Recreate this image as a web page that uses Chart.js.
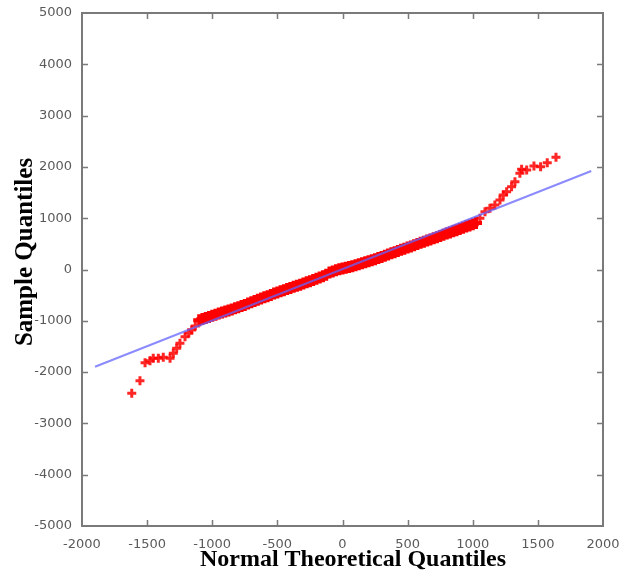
<!DOCTYPE html>
<html>
<head>
<meta charset="utf-8">
<script src="https://cdn.jsdelivr.net/npm/chart.js@4"></script>
<style>
  html, body { margin: 0; padding: 0; background: #fff; overflow: hidden; }
  #wrap { width: 623px; height: 571px; position: relative; }
</style>
</head>
<body>
<div id="wrap"><canvas id="qq"></canvas></div>
<script>
// Normal Q-Q plot
const theoretical = [
  -1618, -1555, -1516, -1478, -1453, -1414, -1376, -1324, -1299, -1273, -1248, -1209, -1180, -1158, -1130,
  -1100, -1075, -1050, -1025, -1000, -975, -950, -925, -900, -875, -850, -825, -800, -775, -750, -725,
  -700, -675, -650, -625, -600, -575, -550, -525, -500, -475, -450, -425, -400, -375, -350, -325,
  -300, -275, -250, -225, -200, -175, -150, -125, -100, -75, -50, -25, 0, 25, 50, 75,
  100, 125, 150, 175, 200, 225, 250, 275, 300, 325, 350, 375, 400, 425, 450, 475,
  500, 525, 550, 575, 600, 625, 650, 675, 700, 725, 750, 775, 800, 825, 850, 875,
  900, 925, 950, 975, 1000, 1025, 1055, 1094, 1132, 1170, 1209, 1234, 1260, 1298, 1324,
  1362, 1375, 1414, 1470, 1521, 1572, 1639
];
const sample = [
  -2413, -2168, -1817, -1778, -1731, -1731, -1712, -1731, -1634, -1537, -1439, -1310, -1240, -1179, -1100,
  -990, -965, -945, -925, -900, -880, -860, -840, -820, -800, -780, -755, -735, -710, -690, -665,
  -640, -615, -590, -565, -540, -520, -495, -470, -450, -425, -405, -380, -360, -335, -315, -295,
  -275, -250, -230, -205, -180, -155, -130, -100, -60, -40, -15, 5, 20, 35, 50, 65,
  85, 100, 120, 140, 160, 180, 200, 225, 245, 270, 290, 315, 335, 360, 385, 405,
  430, 450, 475, 495, 520, 540, 565, 585, 610, 630, 655, 675, 700, 720, 745, 765,
  790, 815, 840, 860, 880, 905, 1000, 1127, 1193, 1257, 1355, 1452, 1517, 1614, 1711,
  1875, 1953, 1940, 2018, 2004, 2082, 2187
];
const fitX = [-1900, 1910];
const fitY = [-1895, 1920];
const xTicks = [-2000, -1500, -1000, -500, 0, 500, 1000, 1500, 2000];
const yTicks = [-5000, -4000, -3000, -2000, -1000, 0, 1000, 2000, 3000, 4000, 5000];
const xTitle = 'Normal Theoretical Quantiles';
const yTitle = 'Sample Quantiles';

const points = theoretical.map((x, i) => ({ x: x, y: sample[i] }));
const fitLine = fitX.map((x, i) => ({ x: x, y: fitY[i] }));

// sparse tail points are drawn smaller than the dense middle band
const inBand = (ctx) => {
  const x = theoretical[ctx.dataIndex];
  return x >= -1105 && x <= 1030;
};

// frame, inward ticks on all four sides, and the axis titles
const framePlugin = {
  id: 'frame',
  afterDraw(chart) {
    const ctx = chart.ctx;
    const a = chart.chartArea;
    const xs = chart.scales.x, ys = chart.scales.y;
    ctx.save();
    ctx.setLineDash([]);
    ctx.globalAlpha = 1;
    ctx.strokeStyle = '#7a7a7a';
    ctx.lineWidth = 2;
    ctx.beginPath();
    ctx.rect(a.left, a.top, a.right - a.left, a.bottom - a.top);
    ctx.stroke();
    ctx.lineWidth = 1.5;
    ctx.beginPath();
    xTicks.forEach(v => {
      const px = Math.round(xs.getPixelForValue(v)) + 0.5;
      if (px < a.left + 2 || px > a.right - 2) return;
      ctx.moveTo(px, a.bottom); ctx.lineTo(px, a.bottom - 6);
      ctx.moveTo(px, a.top); ctx.lineTo(px, a.top + 6);
    });
    yTicks.forEach(v => {
      const py = Math.round(ys.getPixelForValue(v)) + 0.5;
      if (py < a.top + 2 || py > a.bottom - 2) return;
      ctx.moveTo(a.left, py); ctx.lineTo(a.left + 6, py);
      ctx.moveTo(a.right, py); ctx.lineTo(a.right - 6, py);
    });
    ctx.stroke();

    ctx.fillStyle = '#000';
    ctx.font = 'bold 24px "Liberation Serif", serif';
    ctx.textAlign = 'center';
    ctx.textBaseline = 'alphabetic';
    ctx.fillText(xTitle, 353, 566);
    ctx.font = 'bold 25px "Liberation Serif", serif';
    ctx.translate(32, 252);
    ctx.rotate(-Math.PI / 2);
    ctx.fillText(yTitle, 0, 0);
    ctx.restore();
  }
};

new Chart(document.getElementById('qq'), {
  type: 'scatter',
  data: {
    datasets: [
      {
        label: 'fit',
        type: 'line',
        data: fitLine,
        borderColor: 'rgba(100, 100, 255, 0.75)',
        borderWidth: 2,
        pointRadius: 0,
        fill: false,
        order: 0
      },
      {
        label: 'sample',
        data: points,
        pointStyle: 'cross',
        pointRadius: (ctx) => inBand(ctx) ? 6 : 4.5,
        pointBorderWidth: (ctx) => inBand(ctx) ? 4 : 3,
        borderColor: (ctx) => inBand(ctx) ? '#ff0000' : 'rgba(255, 0, 0, 0.85)',
        backgroundColor: '#ff0000',
        order: 1
      }
    ]
  },
  options: {
    responsive: true,
    maintainAspectRatio: false,
    animation: false,
    layout: { padding: { left: 0, top: 13, right: 20, bottom: 0 } },
    plugins: {
      legend: { display: false },
      tooltip: { enabled: false }
    },
    scales: {
      x: {
        type: 'linear',
        min: -2000,
        max: 2000,
        afterFit: (s) => { s.height = 45; },
        afterBuildTicks: (s) => { s.ticks = xTicks.map(v => ({ value: v })); },
        grid: { display: false },
        border: { display: false },
        ticks: {
          padding: 3,
          color: '#5a5a5a',
          font: { family: 'DejaVu Sans', size: 13 },
          maxRotation: 0,
          autoSkip: false,
          callback: (v) => String(v)
        }
      },
      y: {
        type: 'linear',
        min: -5000,
        max: 5000,
        afterFit: (s) => { s.width = 82; },
        afterBuildTicks: (s) => { s.ticks = yTicks.map(v => ({ value: v })); },
        grid: { display: false },
        border: { display: false },
        ticks: {
          padding: 2,
          color: '#5a5a5a',
          font: { family: 'DejaVu Sans', size: 13 },
          autoSkip: false,
          callback: (v) => String(v)
        }
      }
    }
  },
  plugins: [framePlugin]
});
</script>
</body>
</html>
